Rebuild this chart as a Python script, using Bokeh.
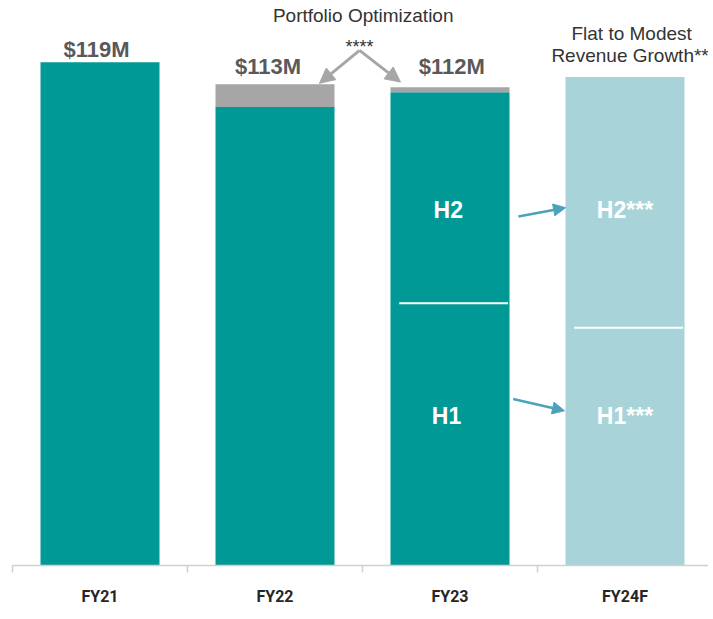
from bokeh.plotting import figure
from bokeh.models import Range1d, FixedTicker, Arrow, NormalHead
from bokeh.core.properties import value
from bokeh.embed import file_html
from bokeh.resources import INLINE

# ---- data ($M) ----
categories = ["FY21", "FY22", "FY23", "FY24F"]
core_revenue = [119.0, 108.4, 111.9, 115.5]
portfolio_optimization = [0.0, 5.4, 1.2, 0.0]
h1_revenue = [None, None, 62.0, 56.2]
total_labels = ["$119M", "$113M", "$112M", ""]

TEAL = "#009996"
LIGHT = "#a8d4d9"
GREY = "#a6a6a6"
BLUE = "#4ba3bb"
FONT = value("Liberation Sans")

centers = [i + 0.5 for i in range(len(categories))]
W = 0.68

p = figure(width=708, height=608, output_backend="svg", toolbar_location=None,
           x_range=Range1d(0, 696 / 175), y_range=Range1d(0, 131.7),
           min_border_left=12, min_border_right=0, min_border_top=8,
           min_border_bottom=41)
p.outline_line_color = None
p.grid.visible = False
p.yaxis.visible = False
p.background_fill_color = "white"

# bars
colors = [TEAL, TEAL, TEAL, LIGHT]
p.vbar(x=centers, width=W, bottom=0, top=core_revenue, fill_color=colors, line_color=None)
tops = [c + d for c, d in zip(core_revenue, portfolio_optimization)]
gi = [i for i, d in enumerate(portfolio_optimization) if d > 0]
p.vbar(x=[centers[i] for i in gi], width=W, bottom=[core_revenue[i] for i in gi],
       top=[tops[i] for i in gi], fill_color=GREY, line_color=None)

# H1/H2 divider lines
si = [i for i, h in enumerate(h1_revenue) if h is not None]
p.segment(x0=[centers[i] - W / 2 + 0.05 for i in si], x1=[centers[i] + W / 2 - 0.008 for i in si],
          y0=[h1_revenue[i] for i in si], y1=[h1_revenue[i] for i in si],
          line_color="white", line_width=2)

# total labels
offsets = [3.0, 4.1, 4.8]
dxs = [-0.02, -0.04, 0.01]
li = [i for i, t in enumerate(total_labels) if t]
p.text(x=[centers[i] + dxs[k] for k, i in enumerate(li)],
       y=[tops[i] + offsets[k] for k, i in enumerate(li)],
       text=[total_labels[i] for i in li], text_font=FONT, text_font_style="bold",
       text_font_size="22px", text_color="#595959", text_align="center",
       text_baseline="middle")

# H1 / H2 labels
fy23 = categories.index("FY23")
fy24 = categories.index("FY24F")
h2_y = 84.1
h1_y = 35.4
p.text(x=[centers[fy23] - 0.01, centers[fy23] - 0.02, centers[fy24], centers[fy24]],
       y=[h2_y, h1_y, h2_y, h1_y], text=["H2", "H1", "H2***", "H1***"],
       text_font=FONT, text_font_style="bold", text_font_size="23px",
       text_color="white", text_align="center", text_baseline="middle")

# annotations
p.text(x=[2.004], y=[130.0], text=["Portfolio Optimization"], text_font=FONT,
       text_font_size="19px", text_color="#333333", text_align="center",
       text_baseline="middle")
p.text(x=[3.538, 3.529], y=[125.8, 120.6], text=["Flat to Modest", "Revenue Growth**"],
       text_font=FONT, text_font_size="19px", text_color="#333333",
       text_align="center", text_baseline="middle")
p.text(x=[1.983], y=[122.6], text=["****"], text_font=FONT, text_font_size="18px",
       text_color="#333333", text_align="center", text_baseline="alphabetic")

# grey arrows
for xe, ye in [(1.754, 114.0), (2.217, 114.3)]:
    p.add_layout(Arrow(end=NormalHead(size=15, fill_color=GREY, line_color=GREY),
                       x_start=1.983, y_start=121.8, x_end=xe, y_end=ye,
                       line_color=GREY, line_width=3))
# blue arrows
for (xs, ys, xe, ye) in [(2.891, 82.5, 3.16, 84.6), (2.861, 39.35, 3.154, 36.6)]:
    p.add_layout(Arrow(end=NormalHead(size=12, fill_color=BLUE, line_color=BLUE),
                       x_start=xs, y_start=ys, x_end=xe, y_end=ye,
                       line_color=BLUE, line_width=2.5))

# x axis
ax = p.xaxis[0]
ax.ticker = FixedTicker(ticks=centers, minor_ticks=[0, 1, 2, 3, 4])
ax.major_label_overrides = {c: n for c, n in zip(centers, categories)}
ax.major_tick_line_color = None
ax.minor_tick_in = 0
ax.minor_tick_out = 7
ax.minor_tick_line_color = "#d0d0d0"
ax.minor_tick_line_width = 1.5
ax.axis_line_color = "#d0d0d0"
ax.axis_line_width = 1.5
ax.major_label_standoff = 14
ax.major_label_text_font = "Roboto"
ax.major_label_text_font_style = "bold"
ax.major_label_text_font_size = "16px"
ax.major_label_text_color = "#262626"

open("out.html", "w").write(file_html(p, INLINE))
